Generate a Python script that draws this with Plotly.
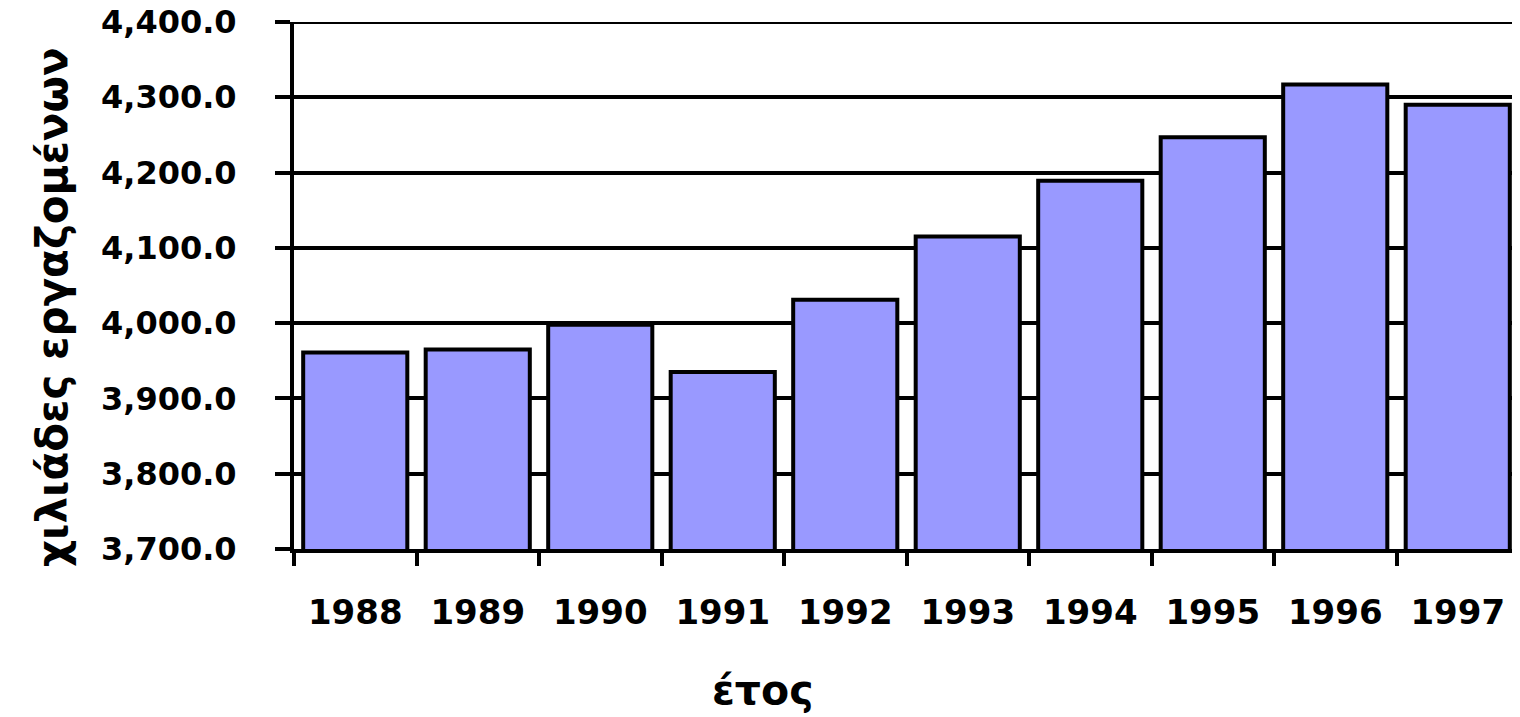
import plotly.graph_objects as go

years = ["1988", "1989", "1990", "1991", "1992", "1993", "1994", "1995", "1996", "1997"]
employed = [3961, 3965, 3998, 3935, 4031, 4115, 4189, 4247, 4317, 4290]
y_ticks = [3700, 3800, 3900, 4000, 4100, 4200, 4300, 4400]

y_title = "χιλιάδες εργαζομένων"
x_title = "έτος"

FONT = "DejaVu Sans"

# the page body adds an 8px offset, so figure coords = page coords - 8
OFF = 8
W, H = 1520, 717
L, T = 294 - OFF, 22 - OFF
R = W - (1519 - OFF)
B = H - (549 - OFF)
PW, PH = W - L - R, H - T - B

fig = go.Figure(
    go.Bar(
        x=years,
        y=employed,
        marker=dict(color="#9999FF", line=dict(color="black", width=4)),
    )
)

fig.update_layout(
    width=W,
    height=H,
    margin=dict(l=L, r=R, t=T, b=B, autoexpand=False),
    paper_bgcolor="white",
    plot_bgcolor="white",
    bargap=0.15,
    showlegend=False,
    font=dict(family=FONT, size=31, color="black"),
)

fig.update_yaxes(
    range=[y_ticks[0], y_ticks[-1]],
    tickmode="array",
    tickvals=y_ticks,
    ticktext=[f"{v:,.1f}" for v in y_ticks],
    ticklabeloverflow="allow",
    showgrid=True,
    gridcolor="black",
    gridwidth=4,
    showline=True,
    linecolor="black",
    linewidth=4,
    ticks="outside",
    ticklen=15,
    tickwidth=4,
    tickcolor="black",
    ticklabelstandoff=32,
    tickfont=dict(family=FONT, size=32, color="black", weight="bold"),
    automargin=False,
    zeroline=False,
)

fig.update_xaxes(
    showline=True,
    linecolor="black",
    linewidth=4,
    ticks="outside",
    tickson="boundaries",
    ticklen=13,
    tickwidth=4,
    tickcolor="black",
    ticklabelstandoff=30,
    ticklabeloverflow="allow",
    tickfont=dict(family=FONT, size=34, color="black", weight="bold"),
    automargin=False,
)

# top gridline at the upper range limit (plotly omits the grid at the plot edge)
fig.add_hline(y=y_ticks[-1], line=dict(color="black", width=4), layer="below")


def px_to_paper(px, py):
    return ((px - OFF) - L) / PW, (T + PH - (py - OFF)) / PH


yx, yy = px_to_paper(52, 307)
fig.add_annotation(
    text=y_title, xref="paper", yref="paper", x=yx, y=yy,
    xanchor="center", yanchor="middle", textangle=-90, showarrow=False,
    font=dict(family=FONT, size=42, color="black", weight="bold"),
)
xx, xy = px_to_paper(762, 690)
fig.add_annotation(
    text=x_title, xref="paper", yref="paper", x=xx, y=xy,
    xanchor="center", yanchor="middle", showarrow=False,
    font=dict(family=FONT, size=41, color="black", weight="bold"),
)

fig.write_html("out.html")
